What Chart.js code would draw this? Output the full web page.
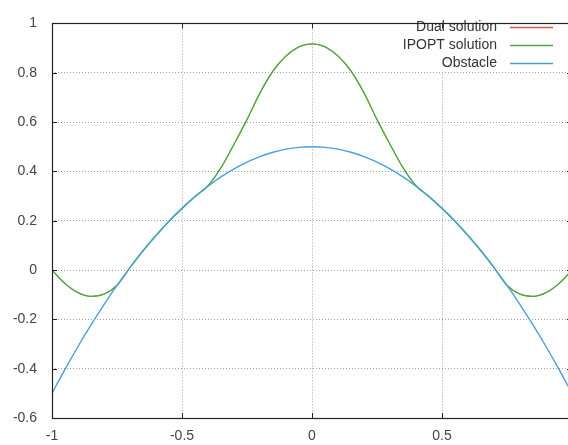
<!DOCTYPE html>
<html>
<head>
<meta charset="utf-8">
<script src="https://cdn.jsdelivr.net/npm/chart.js@4.4.1/dist/chart.umd.min.js"></script>
<style>
  html, body { margin: 0; padding: 0; background: #fff; overflow: hidden; }
  #wrap { width: 568px; height: 445px; overflow: hidden; }
</style>
</head>
<body>
<div id="wrap"><canvas id="plot" width="590" height="445"></canvas></div>
<script>
// Sample positions along x
const xValues = [
  -1, -0.95, -0.9, -0.85, -0.8, -0.75, -0.7, -0.65, -0.6, -0.55, -0.5,
  -0.45, -0.4, -0.35, -0.3, -0.25, -0.2, -0.15, -0.1, -0.05, 0,
  0.05, 0.1, 0.15, 0.2, 0.25, 0.3, 0.35, 0.4, 0.45, 0.5,
  0.55, 0.6, 0.65, 0.7, 0.75, 0.8, 0.85, 0.9, 0.95, 1
];

// Series
const obstacle = [
  -0.5, -0.4025, -0.31, -0.2225, -0.14, -0.0625, 0.01, 0.0775, 0.14, 0.1975, 0.25,
  0.2975, 0.34, 0.3775, 0.41, 0.4375, 0.46, 0.4775, 0.49, 0.4975, 0.50,
  0.4975, 0.49, 0.4775, 0.46, 0.4375, 0.41, 0.3775, 0.34, 0.2975, 0.25,
  0.1975, 0.14, 0.0775, 0.01, -0.0625, -0.14, -0.2225, -0.31, -0.4025, -0.5
];
const ipoptSolution = [
  0, -0.055, -0.092, -0.107, -0.098, -0.062, 0.01, 0.078, 0.14, 0.198, 0.25,
  0.298, 0.342, 0.415, 0.51, 0.61, 0.718, 0.807, 0.868, 0.905, 0.917,
  0.905, 0.868, 0.807, 0.718, 0.61, 0.51, 0.415, 0.342, 0.298, 0.25,
  0.198, 0.14, 0.078, 0.01, -0.062, -0.098, -0.107, -0.092, -0.055, 0
];
const dualSolution = [
  0, -0.055, -0.092, -0.107, -0.098, -0.062, 0.01, 0.078, 0.14, 0.198, 0.25,
  0.298, 0.342, 0.415, 0.51, 0.61, 0.718, 0.807, 0.868, 0.905, 0.917,
  0.905, 0.868, 0.807, 0.718, 0.61, 0.51, 0.415, 0.342, 0.298, 0.25,
  0.198, 0.14, 0.078, 0.01, -0.062, -0.098, -0.107, -0.092, -0.055, 0
];

const seriesLabels = ["Dual solution", "IPOPT solution", "Obstacle"];
const seriesColors = ["#d9534f", "#4aaa3a", "#4a9fdc"];

// Axis ranges and tick steps
const xMin = -1, xMax = 1, xStep = 0.5;
const yMin = -0.6, yMax = 1, yStep = 0.2;

const fontFamily = "'Liberation Sans', Arial, sans-serif";

const toPoints = function(ys) {
  return xValues.map((x, i) => ({ x: x, y: ys[i] }));
};

// gnuplot-like frame, inward ticks and key drawn on top
const framePlugin = {
  id: "frame",
  afterDraw(chart) {
    const ctx = chart.ctx;
    const a = chart.chartArea;
    const xs = chart.scales.x;
    const ys = chart.scales.y;
    ctx.save();

    // key background
    ctx.fillStyle = "#fff";
    ctx.fillRect(366, 18, 230, 54);

    ctx.font = "14px " + fontFamily;
    ctx.textAlign = "right";
    ctx.textBaseline = "middle";
    const keyY = [27, 45, 63];
    seriesLabels.forEach((lab, i) => {
      ctx.fillStyle = "#333";
      ctx.fillText(lab, 497, keyY[i]);
      ctx.strokeStyle = seriesColors[i];
      ctx.lineWidth = 1.5;
      ctx.beginPath();
      ctx.moveTo(510, keyY[i] + 0.5);
      ctx.lineTo(553, keyY[i] + 0.5);
      ctx.stroke();
    });

    // frame
    ctx.strokeStyle = "#222";
    ctx.lineWidth = 1.2;
    ctx.strokeRect(Math.round(a.left) + 0.5, Math.round(a.top) + 0.5,
      Math.round(a.right - a.left), Math.round(a.bottom - a.top));

    // inward ticks
    ctx.lineWidth = 1;
    ctx.beginPath();
    xs.ticks.forEach(t => {
      const px = Math.round(xs.getPixelForValue(t.value)) + 0.5;
      ctx.moveTo(px, a.bottom); ctx.lineTo(px, a.bottom - 5);
      ctx.moveTo(px, a.top); ctx.lineTo(px, a.top + 5);
    });
    ys.ticks.forEach(t => {
      const py = Math.round(ys.getPixelForValue(t.value)) + 0.5;
      ctx.moveTo(a.left, py); ctx.lineTo(a.left + 5, py);
      ctx.moveTo(a.right, py); ctx.lineTo(a.right - 5, py);
    });
    ctx.stroke();
    ctx.restore();
  }
};

const chartDataSets = [
  {
    label: seriesLabels[0],
    data: toPoints(dualSolution),
    borderColor: seriesColors[0],
    borderWidth: 0.8,
    pointRadius: 0,
    cubicInterpolationMode: "monotone",
    order: 3
  },
  {
    label: seriesLabels[1],
    data: toPoints(ipoptSolution),
    borderColor: seriesColors[1],
    borderWidth: 1.4,
    pointRadius: 0,
    cubicInterpolationMode: "monotone",
    order: 2
  },
  {
    label: seriesLabels[2],
    data: toPoints(obstacle),
    borderColor: seriesColors[2],
    borderWidth: 1.4,
    pointRadius: 0,
    cubicInterpolationMode: "monotone",
    order: 1
  }
];

const chartOptions = {
  responsive: false,
  animation: false,
  devicePixelRatio: 1,
  layout: { padding: { top: 15, right: 18, left: 0, bottom: 0 } },
  plugins: { legend: { display: false }, tooltip: { enabled: false } },
  scales: {
    x: {
      type: "linear",
      min: xMin,
      max: xMax,
      ticks: {
        stepSize: xStep,
        padding: 10,
        color: "#444",
        font: { family: fontFamily, size: 14 },
        maxRotation: 0,
        callback: v => String(Math.round(v * 10) / 10)
      },
      grid: { color: "#a0a0a0", lineWidth: 1, drawTicks: false },
      border: { display: false, dash: [1, 2] },
      afterFit: s => { s.height = 27; }
    },
    y: {
      min: yMin,
      max: yMax,
      ticks: {
        stepSize: yStep,
        padding: 15,
        color: "#444",
        font: { family: fontFamily, size: 14 },
        callback: v => String(Math.round(v * 10) / 10)
      },
      grid: { color: "#a0a0a0", lineWidth: 1, drawTicks: false },
      border: { display: false, dash: [1, 2] },
      afterFit: s => { s.width = 52; }
    }
  }
};

new Chart(document.getElementById("plot"), {
  type: "line",
  data: { datasets: chartDataSets },
  options: chartOptions,
  plugins: [framePlugin]
});
</script>
</body>
</html>
